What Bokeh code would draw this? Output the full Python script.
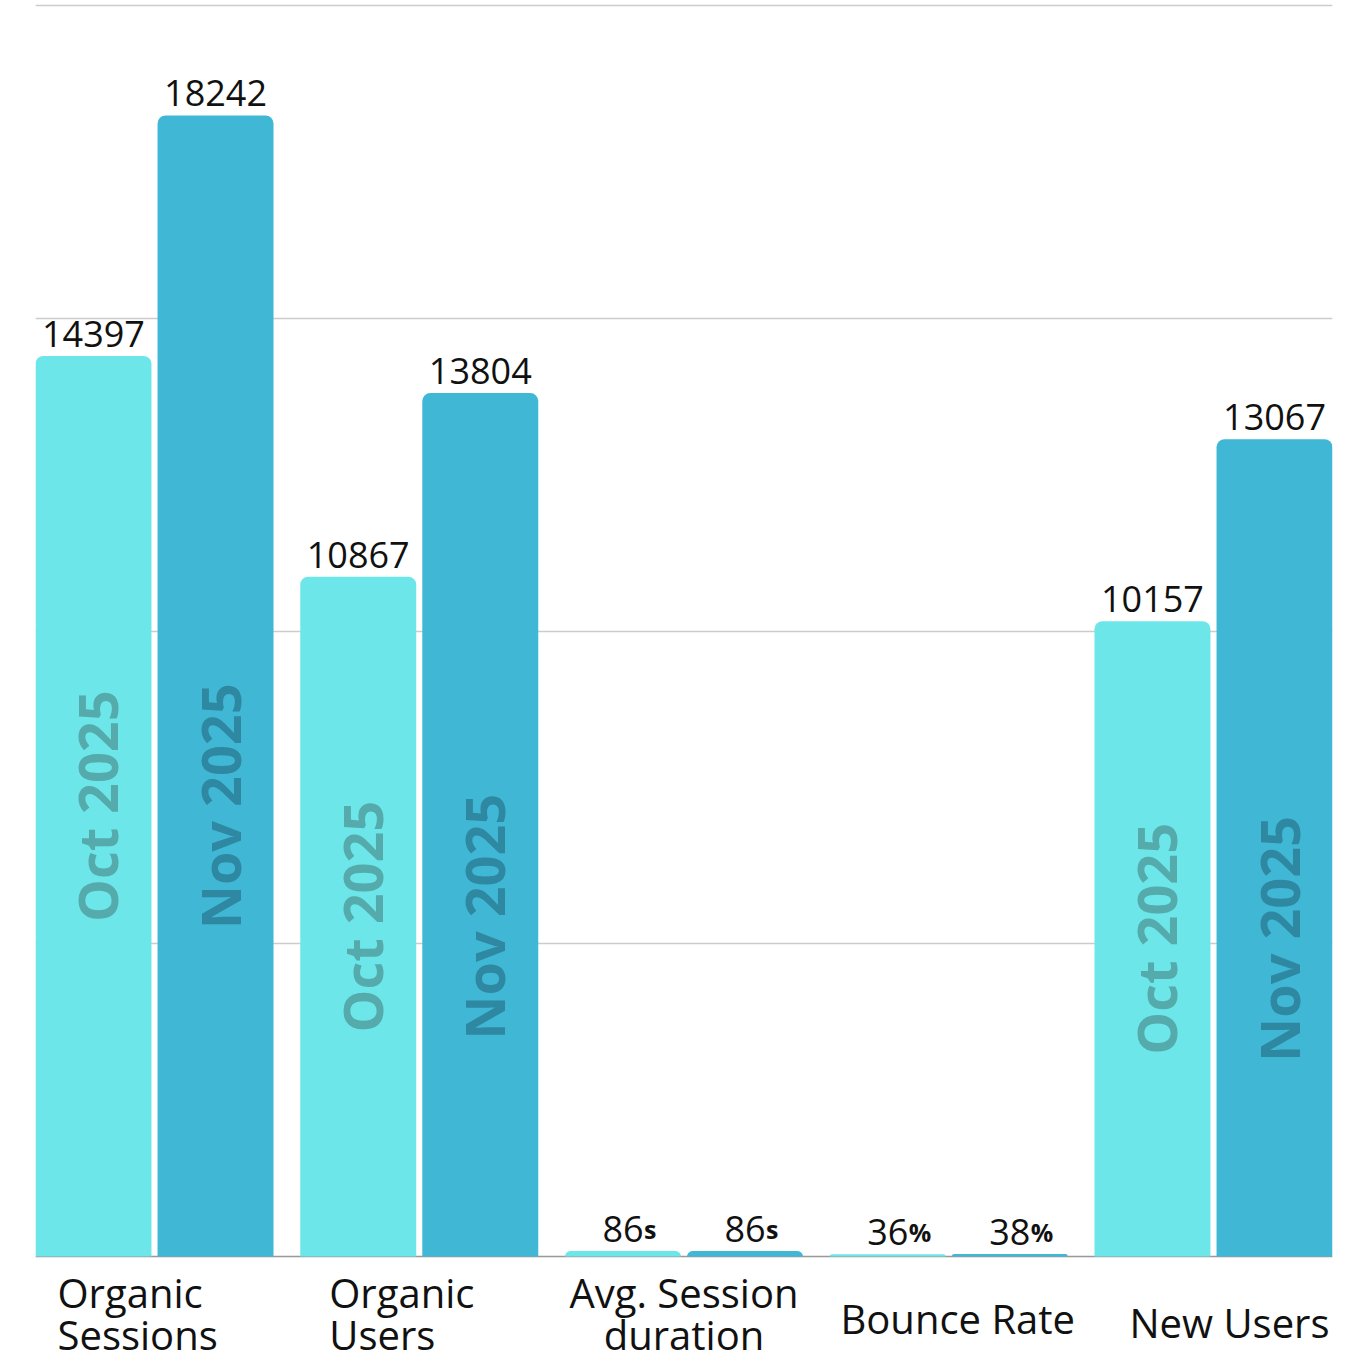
import numpy as np
from bokeh.plotting import figure
from bokeh.models import ColumnDataSource, Range1d, FixedTicker, Span, Grid
from bokeh.core.properties import value
from bokeh.embed import file_html
from bokeh.resources import INLINE

# ---------------- data ----------------
categories = ["Organic\nSessions", "Organic\nUsers", "Avg. Session\nduration",
              "Bounce Rate", "New Users"]
series_names = ["Oct 2025", "Nov 2025"]
oct_values = [14397, 10867, 86, 36, 10157]
nov_values = [18242, 13804, 86, 38, 13067]
value_suffix = ["", "", "s", "%", ""]
grid_ticks = [5000, 10000, 15000, 20000]

# ---------------- style ----------------
OCT_COLOR = "#6ce6e8"
NOV_COLOR = "#41b7d6"
OCT_TEXT = "#55aaac"
NOV_TEXT = "#2f88a1"
FONT = "Open Sans"
label_align = ["left", "left", "center", "center", "center"]
label_dx = [-97, -90, 0, 9, 16]     # px
label_dy = [57, 57, 57, 62, 66]     # px below the baseline

W, H = 1356, 1356
BORDER_L, BORDER_R = 35, 24
BASE_PX = 1256      # frame px of the zero line
TOP_PX = 5          # frame px of the 20000 line
BAR_W = 0.438
SHIFT = 0.2305
PAD = 0.4495

scale = (BASE_PX - TOP_PX) / 20000.0
y_end = 20000 + TOP_PX / scale
y_start = -(H - BASE_PX) / scale

n = len(categories)
xc = np.arange(n, dtype=float)

p = figure(width=W, height=H, output_backend="svg", toolbar_location=None,
           x_axis_type=None, y_axis_type=None,
           x_range=Range1d(-PAD, n - 1 + PAD), y_range=Range1d(y_start, y_end),
           min_border_left=BORDER_L, min_border_right=BORDER_R,
           min_border_top=0, min_border_bottom=0)
p.outline_line_color = None
p.background_fill_color = "white"

grid = Grid(dimension=1, ticker=FixedTicker(ticks=grid_ticks),
            grid_line_color="#cccccc", grid_line_width=1.5)
p.add_layout(grid)
p.add_layout(Span(location=0, dimension="width", line_color="#999999",
                  line_width=1.5, level="underlay"))

vals = [oct_values, nov_values]
colors = [OCT_COLOR, NOV_COLOR]
tcolors = [OCT_TEXT, NOV_TEXT]
shifts = [-SHIFT, SHIFT]
group_min = [min(a, b) for a, b in zip(oct_values, nov_values)]

for k in range(2):
    v = np.array(vals[k], dtype=float)
    x = xc + shifts[k]
    src = ColumnDataSource(dict(x=x, top=v,
                                num=[f"{int(t)}" for t in v],
                                suf=value_suffix))
    p.vbar(x="x", top="top", bottom=0, width=BAR_W, source=src,
           fill_color=colors[k], line_color=None,
           border_radius=(8, 8, 0, 0))
    p.text(x="x", y="top", text="num", source=src,
           text_font=value(FONT), text_font_size="36px", text_color="#111111",
           text_align="center", text_baseline="alphabetic", y_offset=-22)
    p.text(x="x", y="top", text="suf", source=src,
           text_font=value(FONT), text_font_size="25px", text_font_style="bold",
           text_color="#111111",
           text_align="left", text_baseline="alphabetic", y_offset=-22, x_offset=21)
    # inner rotated series labels for tall bars
    mask = v > 1000
    isrc = ColumnDataSource(dict(x=x[mask],
                                 y=np.array(group_min, dtype=float)[mask] / 2.0,
                                 t=[series_names[k]] * int(mask.sum())))
    p.text(x="x", y="y", text="t", source=isrc, angle=np.pi / 2,
           text_font=value(FONT), text_font_size="54px", text_font_style="bold",
           text_color=tcolors[k], text_align="center", text_baseline="middle",
           x_offset=4)

# category labels
for i in range(n):
    s = ColumnDataSource(dict(x=[xc[i]], y=[0.0], t=[categories[i]]))
    p.text(x="x", y="y", text="t", source=s,
           text_font=value(FONT), text_font_size="40px", text_color="#111111",
           text_align=label_align[i], text_baseline="middle",
           x_offset=label_dx[i], y_offset=label_dy[i], text_line_height=0.78)

open("out.html", "w").write(file_html(p, INLINE))
